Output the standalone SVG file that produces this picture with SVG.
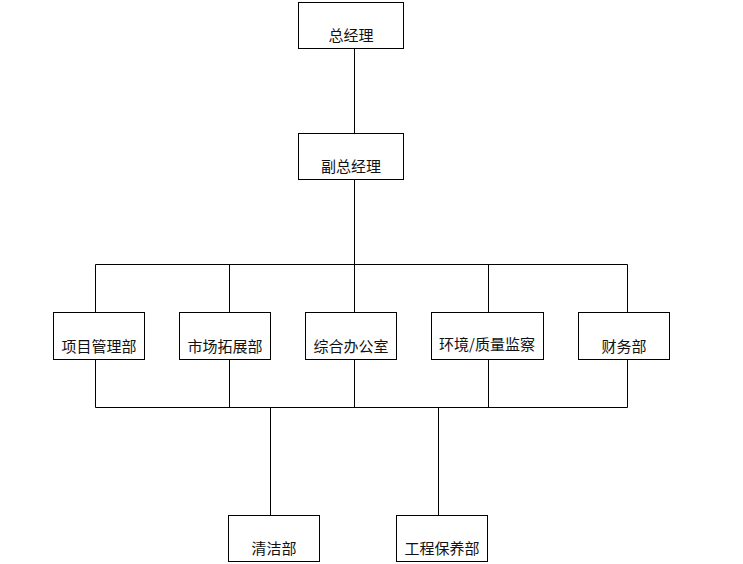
<svg xmlns="http://www.w3.org/2000/svg" width="743" height="564" viewBox="0 0 743 564">
<style>
rect.n{fill:#fff;stroke:#000;stroke-width:1}
text{font-family:"Noto Sans CJK SC","Microsoft YaHei",sans-serif;font-size:15px;fill:#111;text-anchor:middle;dominant-baseline:central}
.c line{stroke:#000;stroke-width:1}
</style>
<rect width="743" height="564" fill="#fff"/>
<g class="c" id="connectors">
<line x1="354.5" y1="48" x2="354.5" y2="134"/>
<line x1="354.5" y1="180" x2="354.5" y2="264.5"/>
<line x1="95.5" y1="264.5" x2="627.5" y2="264.5"/>
<line x1="95.5" y1="264.5" x2="95.5" y2="312"/>
<line x1="229.5" y1="264.5" x2="229.5" y2="312"/>
<line x1="354.5" y1="264.5" x2="354.5" y2="312"/>
<line x1="488.5" y1="264.5" x2="488.5" y2="312"/>
<line x1="627.5" y1="264.5" x2="627.5" y2="312"/>
<line x1="95.5" y1="407.5" x2="627.5" y2="407.5"/>
<line x1="95.5" y1="360" x2="95.5" y2="407.5"/>
<line x1="229.5" y1="360" x2="229.5" y2="407.5"/>
<line x1="354.5" y1="360" x2="354.5" y2="407.5"/>
<line x1="488.5" y1="360" x2="488.5" y2="407.5"/>
<line x1="627.5" y1="360" x2="627.5" y2="407.5"/>
<line x1="270.5" y1="407.5" x2="270.5" y2="515"/>
<line x1="438.5" y1="407.5" x2="438.5" y2="515"/>
</g>
<g id="n-gm"><rect class="n" x="298.5" y="2.5" width="105" height="46"/><text x="351" y="34.5">总经理</text></g>
<g id="n-dgm"><rect class="n" x="298.5" y="133.5" width="105" height="46"/><text x="351" y="165.5">副总经理</text></g>
<g id="n-xm"><rect class="n" x="53.5" y="312.5" width="91" height="47"/><text x="99" y="345">项目管理部</text></g>
<g id="n-sc"><rect class="n" x="179.5" y="312.5" width="91" height="47"/><text x="225" y="345">市场拓展部</text></g>
<g id="n-zh"><rect class="n" x="305.5" y="312.5" width="91" height="47"/><text x="351" y="345">综合办公室</text></g>
<g id="n-hj"><rect class="n" x="431.5" y="312.5" width="112" height="47"/><text x="487" y="343">环境/质量监察</text></g>
<g id="n-cw"><rect class="n" x="578.5" y="312.5" width="91" height="47"/><text x="624" y="345">财务部</text></g>
<g id="n-qj"><rect class="n" x="228.5" y="515.5" width="91" height="46"/><text x="274" y="547">清洁部</text></g>
<g id="n-gc"><rect class="n" x="396.5" y="515.5" width="91" height="46"/><text x="442" y="547">工程保养部</text></g>
</svg>
